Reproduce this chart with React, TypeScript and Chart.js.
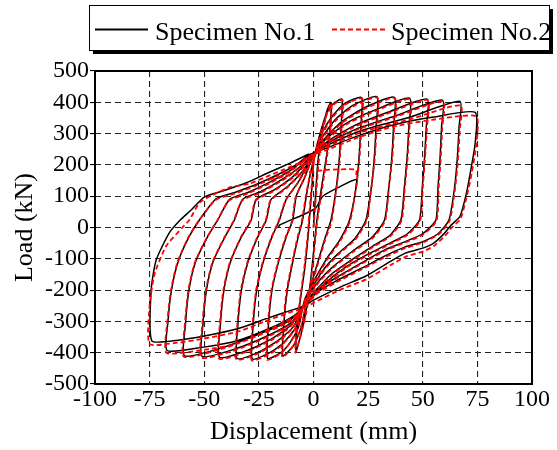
import React, { useEffect, useRef } from "react";
import { Chart, registerables } from "chart.js";

Chart.register(...registerables);

const FONT = '"Liberation Serif", "Times New Roman", Times, serif';

const seriesNames = ["Specimen No.1", "Specimen No.2"];
const xTickValues = [-100, -75, -50, -25, 0, 25, 50, 75, 100];
const yTickValues = [-500, -400, -300, -200, -100, 0, 100, 200, 300, 400, 500];
const xTitle = "Displacement (mm)";
const yTitle = "Load (kN)";

// Specimen No.1 : displacement (mm), load (kN), cycle by cycle
const specimen1Path: [number, number][] = [
  // cycle 1
  [0, 0], [1, 110], [2, 210], [4, 310], [6, 370], [8, 400],
  [7.6, 320], [6, 230], [3.5, 120], [1.5, 20], [0, -80], [-1.5, -180], [-3.5, -270], [-5.5, -335], [-8, -395],
  [-7.5, -320], [-6, -230], [-4, -130], [-2.5, -30], [-1.5, 60], [-0.5, 150], [0, 215],
  // cycle 2
  [3, 300], [6, 365], [9, 395], [13, 410],
  [12.6, 320], [11.8, 220], [10.5, 130], [8, 24], [5, -40], [2, -110], [-1, -180], [-3, -230],
  [-5.5, -315], [-9, -375], [-14, -410],
  [-13.6, -310], [-12, -200], [-9.5, -110], [-7, -30], [-5, 24], [-3.3, 100], [-1.5, 170], [0, 215],
  // cycle 3
  [3, 290], [8, 350], [14, 395], [22, 415],
  [21.6, 320], [20.8, 220], [19.5, 130], [16.5, 24], [12, -40], [6, -100], [1, -160], [-4, -230],
  [-7, -320], [-11, -370], [-15, -400], [-21, -418],
  [-20.6, -310], [-19, -200], [-16, -110], [-12.5, -30], [-9.5, 24], [-7.9, 100], [-4, 160], [-1, 215],
  // cycle 4
  [4, 288], [10, 345], [18, 390], [29, 418],
  [28.6, 320], [27.8, 220], [26.5, 130], [24, 24], [19, -35], [11, -85], [4, -140], [-4, -235],
  [-8, -318], [-14, -370], [-20, -400], [-28, -420],
  [-27.6, -310], [-26, -200], [-23, -110], [-19, -30], [-15.6, 24], [-12.5, 90], [-7, 145], [-1, 218],
  // cycle 5
  [5, 283], [13, 338], [24, 385], [37, 416],
  [36.6, 320], [35.8, 220], [34.5, 130], [32.5, 24], [27, -30], [18, -75], [9, -125], [2, -175], [-4, -240],
  [-9, -315], [-16, -360], [-25, -398], [-35, -418],
  [-34.6, -310], [-33, -200], [-30, -110], [-25.5, -30], [-21.6, 24], [-19.4, 90], [-12, 130], [-5, 180], [-1, 222],
  // cycle 6
  [5, 278], [15, 333], [28, 375], [44, 413],
  [43.6, 320], [42.8, 220], [41.6, 130], [40, 24], [35, -25], [27, -60], [17, -105], [8, -150], [-4, -240],
  [-10, -310], [-19, -355], [-30, -392], [-43, -415],
  [-42.6, -310], [-41, -200], [-38, -110], [-33, -30], [-28.5, 24], [-26.2, 90], [-18, 120], [-9, 165], [-1, 225],
  // cycle 7
  [6, 273], [18, 323], [34, 368], [52, 410],
  [51.6, 320], [50.8, 220], [49.8, 130], [48.5, 24], [43, -20], [35, -50], [25, -85], [15, -125], [5, -180], [-4, -245],
  [-10, -303], [-21, -346], [-35, -386], [-51, -412],
  [-50.6, -310], [-49, -200], [-46, -110], [-40.5, -30], [-36.2, 24], [-32.4, 90], [-24, 115], [-14, 155], [-6, 195], [-1, 228],
  // cycle 8
  [6, 268], [20, 316], [38, 358], [59, 407],
  [58.6, 320], [57.9, 220], [57, 130], [56, 24], [50, -20], [42, -45], [33, -70], [24, -105], [14, -145], [4, -190], [-4, -250],
  [-11, -298], [-24, -338], [-40, -380], [-59, -410],
  [-58.6, -310], [-57, -200], [-54, -110], [-48.5, -30], [-43.8, 24], [-38.4, 90], [-30, 112], [-20, 145], [-10, 185], [-2, 230],
  // cycle 9
  [6, 262], [22, 310], [44, 352], [67, 403],
  [66.6, 320], [65.8, 220], [64.6, 130], [62, 24], [57, -20], [50, -45], [42, -62], [33, -90], [22, -130], [10, -172], [0, -215], [-4, -250],
  [-9, -282], [-20, -322], [-35, -362], [-51, -383], [-67, -393],
  [-66.6, -300], [-65, -200], [-62, -110], [-57, -30], [-52.2, 24], [-44.5, 92], [-36, 112], [-26, 138], [-16, 170], [-8, 200], [-2, 232],
  // cycle 10
  [6, 254], [20, 292], [36, 327], [55, 353], [74, 368],
  [74, 270], [72, 184], [70, 110], [67, 35], [63, 8], [60, -18], [55, -50], [50, -66], [42, -82], [35, -109], [24, -155], [13, -188], [0, -232], [-4, -250],
  [-10, -264], [-22, -292], [-34, -322], [-50, -347], [-62, -360], [-74, -362],
  [-74.3, -200], [-72, -104], [-66, -17], [-61, 24], [-56, 56], [-50, 97], [-42, 116], [-31, 142], [-21, 174], [-11, 205], [-2, 235],
];

const specimen1Hook: [number, number][] = [
  [-16, 0], [-15.5, 8], [-5, 40], [1, 62], [4.3, 100], [12, 130], [19.5, 153], [19.6, 125],
];

// Specimen No.2 : displacement (mm), load (kN), cycle by cycle
const specimen2Path: [number, number][] = [
  // cycle 1
  [0, 0], [1.2, 105], [2.3, 205], [4.2, 305], [6.2, 365], [8.3, 398],
  [7.8, 318], [6.2, 228], [3.8, 118], [1.7, 18], [0.2, -82], [-1.3, -182], [-3.3, -272], [-5.6, -338], [-8.3, -400],
  [-7.8, -322], [-6.2, -232], [-4.2, -128], [-2.7, -28], [-1.7, 62], [-0.6, 152], [0.2, 212],
  // cycle 2
  [3.2, 298], [6.2, 362], [9.2, 393], [13.3, 408],
  [12.9, 318], [12, 215], [10.5, 128], [8.3, 22], [5.2, -42], [2.2, -112], [-0.8, -182], [-3, -232],
  [-5.7, -318], [-9.2, -378], [-14.3, -414],
  [-13.9, -312], [-12.3, -202], [-9.8, -112], [-7.3, -32], [-5.3, 22], [-3.6, 96], [-1.7, 166], [0, 212],
  // cycle 3
  [3.2, 287], [8.2, 347], [14.2, 392], [22.3, 412],
  [21.9, 318], [21, 218], [19.5, 128], [16.8, 22], [12.3, -42], [6.3, -102], [1.2, -162], [-4, -233],
  [-7.2, -323], [-11.2, -373], [-15.3, -404], [-21.3, -422],
  [-20.9, -312], [-19.3, -202], [-16.3, -112], [-12.8, -32], [-9.8, 22], [-8.2, 96], [-4.3, 156], [-1, 212],
  // cycle 4
  [4.2, 285], [10.2, 342], [18.2, 387], [29.3, 415],
  [28.9, 318], [28, 218], [26.5, 128], [24.3, 22], [19.3, -37], [11.3, -87], [4.2, -142], [-4, -238],
  [-8.2, -322], [-14.2, -374], [-20.3, -405], [-28.3, -424],
  [-27.9, -312], [-26.3, -202], [-23.3, -112], [-19.3, -32], [-15.9, 22], [-12.8, 86], [-7.3, 141], [-1, 214],
  // cycle 5
  [5.2, 280], [13.2, 335], [24.2, 382], [37.3, 413],
  [36.9, 318], [36, 218], [34.5, 128], [32.8, 22], [27.3, -32], [18.3, -77], [9.2, -127], [2.2, -177], [-4, -243],
  [-9.2, -319], [-16.2, -364], [-25.3, -402], [-35.3, -422],
  [-34.9, -312], [-33.3, -202], [-30.3, -112], [-25.8, -32], [-21.9, 22], [-19.7, 86], [-12.3, 126], [-5.2, 176], [-1, 218],
  // cycle 6
  [5.2, 275], [15.2, 330], [28.2, 372], [44.3, 410],
  [43.9, 318], [43, 218], [41.8, 128], [40.3, 22], [35.3, -27], [27.3, -62], [17.3, -107], [8.2, -152], [-4, -243],
  [-10.2, -314], [-19.2, -359], [-30.3, -396], [-43.3, -419],
  [-42.9, -312], [-41.3, -202], [-38.3, -112], [-33.3, -32], [-28.8, 22], [-26.5, 86], [-18.3, 116], [-9.2, 161], [-1, 221],
  // cycle 7
  [6.2, 270], [18.2, 320], [34.2, 365], [52.3, 407],
  [51.9, 318], [51, 218], [50, 128], [48.8, 22], [43.3, -22], [35.3, -52], [25.3, -87], [15.2, -127], [5.2, -182], [-4, -248],
  [-10.2, -307], [-21.2, -350], [-35.3, -390], [-51.3, -416],
  [-50.9, -312], [-49.3, -202], [-46.3, -112], [-40.8, -32], [-36.5, 22], [-32.7, 86], [-24.3, 111], [-14.2, 151], [-6.2, 191], [-1, 224],
  // cycle 8
  [6.2, 265], [20.2, 313], [38.2, 355], [59.3, 403],
  [58.9, 318], [58.2, 218], [57.3, 128], [56.3, 22], [50.3, -22], [42.3, -47], [33.3, -72], [24.3, -107], [14.2, -147], [4.2, -192], [-4, -253],
  [-11.2, -302], [-24.2, -342], [-40.3, -384], [-59.3, -413],
  [-58.9, -312], [-57.3, -202], [-54.3, -112], [-48.8, -32], [-44.1, 22], [-38.7, 86], [-30.3, 108], [-20.2, 141], [-10.2, 181], [-2, 226],
  // cycle 9
  [6.2, 258], [22.2, 305], [44.3, 346], [67.3, 390],
  [66.9, 310], [66.1, 215], [64.8, 125], [62.3, 22], [57.3, -22], [50.3, -47], [42.3, -65], [33.3, -93], [22.2, -133], [10.2, -176], [0.2, -218], [-4, -253],
  [-9.2, -287], [-20.2, -326], [-35.3, -372], [-51.3, -392], [-67.3, -400],
  [-66.9, -302], [-65.3, -202], [-62.3, -112], [-57.3, -32], [-52.5, 22], [-44.8, 88], [-36.3, 108], [-26.3, 134], [-16.2, 166], [-8.2, 196], [-2, 228],
  // cycle 10
  [6.2, 248], [20.2, 287], [36.3, 322], [55.3, 345], [74.5, 355],
  [74.5, 265], [72.5, 178], [70.3, 104], [67.3, 28], [63.3, 0], [60.3, -26], [55.3, -58], [50.3, -76], [42.3, -93], [35.3, -120], [24.3, -165], [13.2, -196], [0.2, -240], [-4, -256],
  [-10.2, -270], [-22.3, -300], [-34.3, -332], [-50.3, -355], [-62.3, -368], [-75, -372],
  [-75, -250], [-72.8, -150], [-67.5, -60], [-60, 0], [-56.8, 24], [-52.2, 79], [-47.6, 99], [-38.4, 128], [-29.3, 140], [-21.6, 162], [-14, 184], [-3.3, 216],
];

const specimen2Hook: [number, number][] = [
  [-20, 155], [-5, 174], [6, 184], [19.5, 185], [19.6, 168],
];

const toPoints = (arr: [number, number][]) => arr.map(([x, y]) => ({ x, y }));

const decorPlugin = {
  id: "decor",
  afterDraw(chart: any) {
    const { ctx, chartArea } = chart;
    const { left, top, right, bottom } = chartArea;
    ctx.save();
    // frame
    ctx.strokeStyle = "#000";
    ctx.lineWidth = 2;
    ctx.setLineDash([]);
    ctx.strokeRect(left, top, right - left, bottom - top);

    // axis titles
    ctx.fillStyle = "#000";
    ctx.font = `26px ${FONT}`;
    ctx.textAlign = "center";
    ctx.textBaseline = "middle";
    ctx.fillText(xTitle, (left + right) / 2, 432);
    ctx.save();
    ctx.translate(25, (top + bottom) / 2);
    ctx.rotate(-Math.PI / 2);
    ctx.fillText(yTitle, 0, 0);
    ctx.restore();

    // legend box with shadow
    const bx = 89, by = 5, bw = 460, bh = 45;
    ctx.fillStyle = "#000";
    ctx.fillRect(bx + 4, by + 4, bw, bh);
    ctx.fillStyle = "#fff";
    ctx.fillRect(bx, by, bw, bh);
    const ly = 29.5;
    ctx.lineWidth = 2;
    ctx.strokeStyle = "#000";
    ctx.beginPath();
    ctx.moveTo(95, ly);
    ctx.lineTo(148, ly);
    ctx.stroke();
    ctx.strokeStyle = "#ff0000";
    ctx.setLineDash([5, 3]);
    ctx.beginPath();
    ctx.moveTo(332, ly);
    ctx.lineTo(385, ly);
    ctx.stroke();
    ctx.setLineDash([]);
    ctx.fillStyle = "#000";
    ctx.textAlign = "left";
    ctx.textBaseline = "alphabetic";
    ctx.font = `26px ${FONT}`;
    ctx.fillText(seriesNames[0], 155, 40);
    ctx.fillText(seriesNames[1], 391, 40);
    ctx.strokeStyle = "#000";
    ctx.lineWidth = 1;
    ctx.strokeRect(bx + 0.5, by + 0.5, bw, bh);
    ctx.restore();
  },
};

export default function App() {
  const canvasRef = useRef<HTMLCanvasElement | null>(null);

  useEffect(() => {
    document.body.style.margin = "0";
    const canvas = canvasRef.current;
    if (!canvas) return;
    const lineCommon = {
      showLine: true,
      pointRadius: 0,
      pointHoverRadius: 0,
      fill: false,
      tension: 0.2,
    };
    const chart = new Chart(canvas, {
      type: "scatter",
      data: {
        datasets: [
          {
            ...lineCommon,
            label: seriesNames[1],
            data: toPoints(specimen2Path),
            borderColor: "#ff0000",
            borderWidth: 1.8,
            borderDash: [5, 3],
            order: 1,
          },
          {
            ...lineCommon,
            label: seriesNames[1] + " end",
            data: toPoints(specimen2Hook),
            borderColor: "#ff0000",
            borderWidth: 1.8,
            borderDash: [5, 3],
            order: 1,
          },
          {
            ...lineCommon,
            label: seriesNames[0],
            data: toPoints(specimen1Path),
            borderColor: "#000000",
            borderWidth: 1.5,
            order: 2,
          },
          {
            ...lineCommon,
            label: seriesNames[0] + " end",
            data: toPoints(specimen1Hook),
            borderColor: "#000000",
            borderWidth: 1.5,
            order: 2,
          },
        ],
      } as any,
      options: {
        responsive: false,
        animation: false,
        devicePixelRatio: 1,
        layout: { padding: { top: 71, right: 25, left: 0, bottom: 0 } },
        plugins: {
          legend: { display: false },
          tooltip: { enabled: false },
          title: { display: false },
        },
        scales: {
          x: {
            type: "linear",
            min: -100,
            max: 100,
            afterBuildTicks: (scale: any) => {
              scale.ticks = xTickValues.map((v) => ({ value: v }));
            },
            afterFit: (scale: any) => {
              scale.height = 66;
            },
            ticks: {
              font: { family: FONT, size: 24 },
              color: "#000",
              padding: 1,
              maxRotation: 0,
              autoSkip: false,
              callback: (v: any) => String(v),
            },
            grid: {
              color: "#222",
              lineWidth: 1.1,
              drawTicks: false,
              tickLength: 0,
            },
            border: { display: false, dash: [6, 4] },
          },
          y: {
            type: "linear",
            min: -500,
            max: 500,
            afterBuildTicks: (scale: any) => {
              scale.ticks = yTickValues.map((v) => ({ value: v }));
            },
            afterFit: (scale: any) => {
              scale.width = 95;
            },
            ticks: {
              font: { family: FONT, size: 24 },
              color: "#000",
              padding: 1,
              autoSkip: false,
              callback: (v: any) => String(v),
            },
            grid: {
              color: "#222",
              lineWidth: 1.1,
              drawTicks: true,
              tickLength: 5,
              tickColor: "#000",
              tickBorderDash: [],
            },
            border: { display: false, dash: [6, 4] },
          },
        },
      } as any,
      plugins: [decorPlugin],
    });
    return () => chart.destroy();
  }, []);

  return (
    <canvas
      ref={canvasRef}
      width={557}
      height={450}
      style={{ display: "block", width: 557, height: 450 }}
    />
  );
}
